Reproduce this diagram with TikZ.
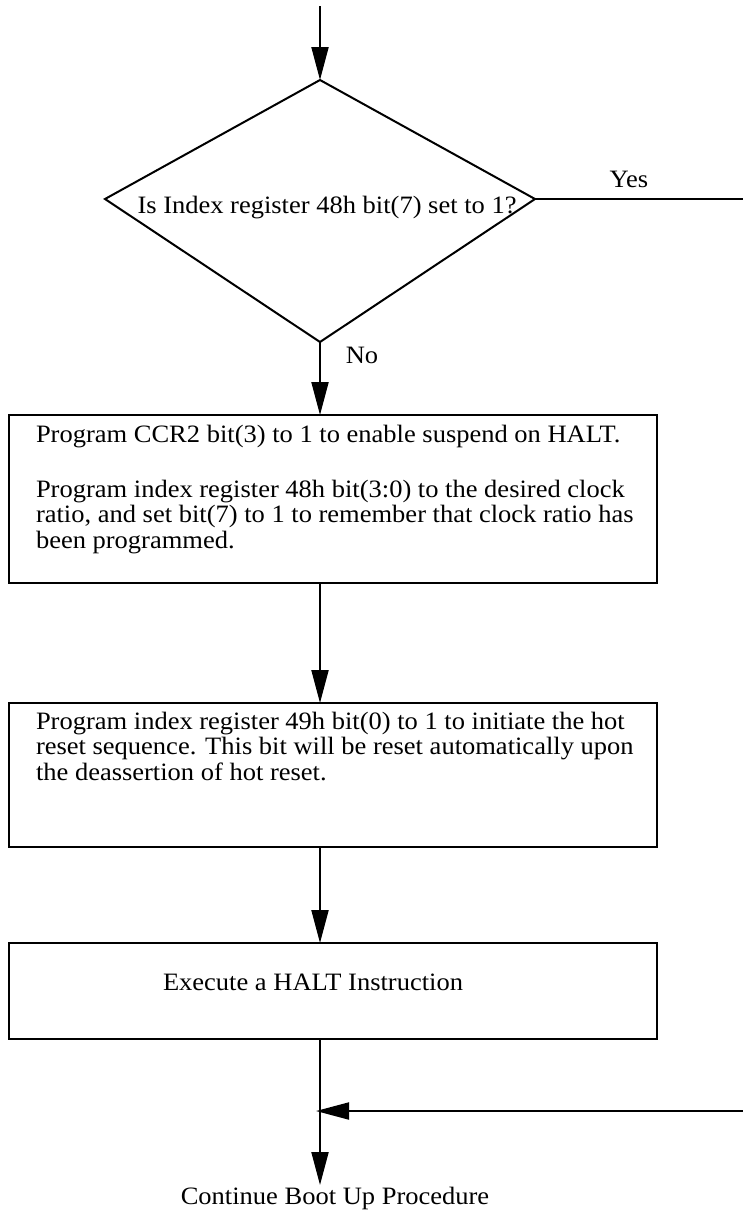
\documentclass[tikz,border=0pt]{standalone}
\usepackage{fontspec}
\setmainfont{Liberation Serif}[FakeStretch=1.06]
\usetikzlibrary{arrows.meta}

\begin{document}
\begin{tikzpicture}[x=1pt,y=-1pt,
  line width=2pt,
  flow/.style={-{Triangle[length=33pt,width=17pt]}},
  stepbox/.style={draw, rectangle, anchor=north west, inner sep=0pt, outer sep=0pt},
  txt/.style={anchor=base west, inner sep=0pt, font=\fontsize{25}{26}\selectfont},
  lbl/.style={anchor=base, inner sep=0pt, font=\fontsize{25}{26}\selectfont}]

\useasboundingbox (0,0) rectangle (743,1213);

% decision diamond
\coordinate (dtop) at (320,80);
\coordinate (dright) at (535,199);
\coordinate (dbot) at (320,342);
\coordinate (dleft) at (105,199);
\draw[line join=miter] (dtop) -- (dright) -- (dbot) -- (dleft) -- cycle;
\node[lbl] (q) at (327,213) {Is Index register 48h bit(7) set to 1?};

% entry and the "Yes" branch
\coordinate (entry) at (320,6);
\draw[flow] (entry) -- (dtop);
\coordinate (yesend) at (743,199);
\draw (dright) -- (yesend);
\node[lbl] (yes) at (629,187) {Yes};
\node[lbl] (no) at (362,363) {No};

% process boxes
\node[stepbox, minimum width=648pt, minimum height=168pt] (b1) at (9,415) {};
\node[stepbox, minimum width=648pt, minimum height=144pt] (b2) at (9,703) {};
\node[stepbox, minimum width=648pt, minimum height=96pt] (b3) at (9,943) {};

\node[txt] (b1l1) at (35,442) {Program CCR2 bit(3) to 1 to enable suspend on HALT.};
\node[txt] (b1l2) at (35,497) {Program index register 48h bit(3:0) to the desired clock};
\node[txt] (b1l3) at (35,522.7) {ratio, and set bit(7) to 1 to remember that clock ratio has};
\node[txt] (b1l4) at (35,548.4) {been programmed.};

\node[txt] (b2l1) at (35,729) {Program index register 49h bit(0) to 1 to initiate the hot};
\node[txt] (b2l2) at (35,754.7) {reset sequence. This bit will be reset automatically upon};
\node[txt] (b2l3) at (35,780.4) {the deassertion of hot reset.};

\node[txt] (b3l1) at (162,990) {Execute a HALT Instruction};

% main flow
\draw[flow] (dbot) -- (dbot |- b1.north);
\draw[flow] (dbot |- b1.south) -- (dbot |- b2.north);
\draw[flow] (dbot |- b2.south) -- (dbot |- b3.north);
\coordinate (merge) at (320,1111);
\coordinate (exitend) at (320,1185);
\draw (dbot |- b3.south) -- (merge);
\draw[flow] (merge) -- (exitend);

% returning "Yes" path
\coordinate (ret) at (743,1111);
\coordinate (mergetip) at (316,1111);
\draw[flow] (ret) -- (mergetip);

\node[lbl] (cont) at (335,1204) {Continue Boot Up Procedure};
\end{tikzpicture}
\end{document}
